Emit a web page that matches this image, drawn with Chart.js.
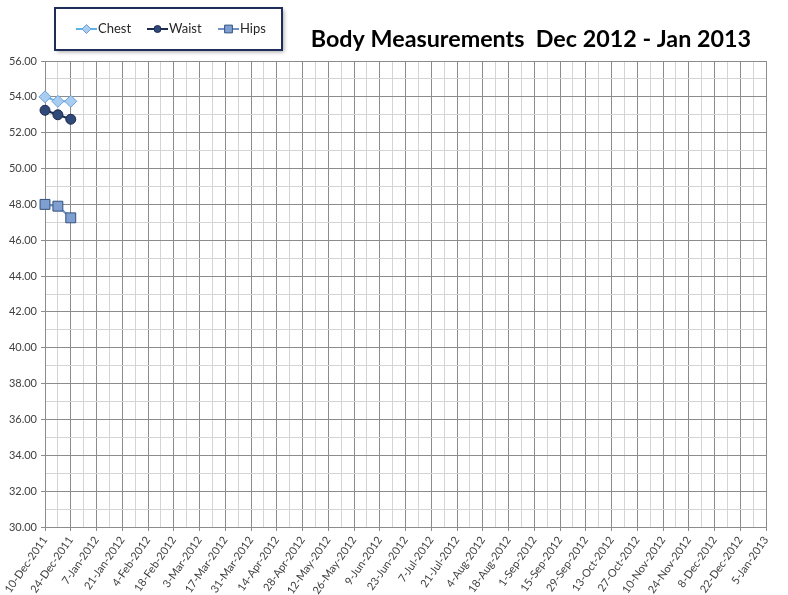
<!DOCTYPE html>
<html>
<head>
<meta charset="utf-8">
<title>Body Measurements</title>
<script src="https://cdn.jsdelivr.net/npm/chart.js@4.4.1/dist/chart.umd.min.js"></script>
<style>
  html, body { margin: 0; padding: 0; background: #ffffff; }
  #contenedor { position: relative; width: 788px; height: 595px; }
</style>
</head>
<body>
<div id="contenedor">
  <canvas id="graficoMedidas" width="788" height="595"></canvas>
</div>
<script>
// Datos (pulgadas)
const fechasMedicion = ['2011-12-10', '2011-12-17', '2011-12-24'];
const pecho = [54.0, 53.75, 53.75];
const cintura = [53.25, 53.0, 52.75];
const caderas = [48.0, 47.9, 47.25];

// Eje X: fechas cada 14 dias desde 10-Dec-2011
const fechaInicio = '2011-12-10';
const etiquetasX = [
    '10-Dec-2011', '24-Dec-2011', '7-Jan-2012', '21-Jan-2012', '4-Feb-2012',
    '18-Feb-2012', '3-Mar-2012', '17-Mar-2012', '31-Mar-2012', '14-Apr-2012',
    '28-Apr-2012', '12-May-2012', '26-May-2012', '9-Jun-2012', '23-Jun-2012',
    '7-Jul-2012', '21-Jul-2012', '4-Aug-2012', '18-Aug-2012', '1-Sep-2012',
    '15-Sep-2012', '29-Sep-2012', '13-Oct-2012', '27-Oct-2012', '10-Nov-2012',
    '24-Nov-2012', '8-Dec-2012', '22-Dec-2012', '5-Jan-2013'
];
const pasoEtiquetas = 14;
const pasoMenorX = 7;

// Eje Y
const yMin = 30;
const yMax = 56;

const tituloGrafico = 'Body Measurements  Dec 2012 - Jan 2013';

// Dias transcurridos desde la fecha de inicio
function diasDesdeInicio(fecha) {
    return Math.round((Date.parse(fecha) - Date.parse(fechaInicio)) / 86400000);
}

function construirPuntos(valores) {
    return valores.map((v, i) => ({ x: diasDesdeInicio(fechasMedicion[i]), y: v }));
}

const diasTotales = (etiquetasX.length - 1) * pasoEtiquetas;

const fuenteBase = 'Lato, "Open Sans", "DejaVu Sans", sans-serif';

// Plugin para dibujar la leyenda con caja y el titulo
const pluginLeyendaTitulo = {
    id: 'leyendaTitulo',
    afterDraw(chart) {
        const ctx = chart.ctx;
        ctx.save();

        // Caja de la leyenda con sombra
        const caja = { x: 55, y: 8, w: 227, h: 42 };
        ctx.shadowColor = 'rgba(0,0,0,0.35)';
        ctx.shadowBlur = 4;
        ctx.shadowOffsetX = 2;
        ctx.shadowOffsetY = 2;
        ctx.fillStyle = '#ffffff';
        ctx.fillRect(caja.x, caja.y, caja.w, caja.h);
        ctx.shadowColor = 'transparent';
        ctx.lineWidth = 2;
        ctx.strokeStyle = '#1f2d5a';
        ctx.strokeRect(caja.x, caja.y, caja.w, caja.h);

        // Elementos de la leyenda
        const inicios = [76, 147, 218];
        const yCentro = 29;
        chart.data.datasets.forEach((ds, i) => {
            const x0 = inicios[i];
            ctx.beginPath();
            ctx.strokeStyle = ds.borderColor;
            ctx.lineWidth = 2;
            ctx.moveTo(x0, yCentro);
            ctx.lineTo(x0 + 21, yCentro);
            ctx.stroke();
            ctx.fillStyle = ds.pointBackgroundColor;
            ctx.strokeStyle = ds.pointBorderColor;
            ctx.lineWidth = 1;
            Chart.helpers.drawPoint(ctx, {
                pointStyle: ds.pointStyle,
                radius: ds.pointRadius - 1.5,
                borderWidth: 1
            }, x0 + 10.5, yCentro);
            ctx.fillStyle = '#262626';
            ctx.font = '13px ' + fuenteBase;
            ctx.textAlign = 'left';
            ctx.textBaseline = 'middle';
            ctx.fillText(ds.label, x0 + 22, yCentro);
        });

        // Titulo
        ctx.fillStyle = '#000000';
        ctx.font = 'bold 23.3px ' + fuenteBase;
        ctx.textAlign = 'right';
        ctx.textBaseline = 'alphabetic';
        ctx.fillText(tituloGrafico, 751, 47);

        ctx.restore();
    }
};

const ctx = document.getElementById('graficoMedidas').getContext('2d');
window.graficoMedidas = new Chart(ctx, {
    type: 'line',
    data: {
        datasets: [
            {
                label: 'Chest',
                data: construirPuntos(pecho),
                borderColor: '#5ab4ea',
                borderWidth: 2,
                pointStyle: 'rectRot',
                pointRadius: 6,
                pointBackgroundColor: '#a9cdf0',
                pointBorderColor: '#6c9fd8',
                pointBorderWidth: 1,
                clip: false
            },
            {
                label: 'Waist',
                data: construirPuntos(cintura),
                borderColor: '#1b2a4f',
                borderWidth: 2,
                pointStyle: 'circle',
                pointRadius: 5,
                pointBackgroundColor: '#2f4a78',
                pointBorderColor: '#1b2a4f',
                pointBorderWidth: 1,
                clip: false
            },
            {
                label: 'Hips',
                data: construirPuntos(caderas),
                borderColor: '#6f93c8',
                borderWidth: 2,
                pointStyle: 'rect',
                pointRadius: 7,
                pointBackgroundColor: '#7e9fd0',
                pointBorderColor: '#34527f',
                pointBorderWidth: 1,
                clip: false
            }
        ]
    },
    options: {
        responsive: false,
        animation: false,
        layout: { padding: { top: 61, right: 22, left: 0, bottom: 0 } },
        plugins: {
            legend: { display: false },
            title: { display: false },
            tooltip: { enabled: false }
        },
        scales: {
            x: {
                type: 'linear',
                min: 0,
                max: diasTotales,
                afterFit(escala) { escala.height = 68; },
                afterBuildTicks(escala) {
                    const ticks = [];
                    for (let d = 0; d <= diasTotales; d += pasoMenorX) ticks.push({ value: d });
                    escala.ticks = ticks;
                },
                ticks: {
                    autoSkip: false,
                    minRotation: 55,
                    maxRotation: 55,
                    padding: 3,
                    color: '#404040',
                    font: { size: 11, family: fuenteBase },
                    callback(valor) {
                        if (valor % pasoEtiquetas !== 0) return '';
                        return etiquetasX[valor / pasoEtiquetas];
                    }
                },
                grid: {
                    color: c => (c.tick && c.tick.value % pasoEtiquetas === 0) ? '#8c8c8c' : '#d4d4d4',
                    tickColor: c => (c.tick && c.tick.value % pasoEtiquetas === 0) ? '#8c8c8c' : 'rgba(0,0,0,0)',
                    tickLength: 4,
                    lineWidth: 1
                },
                border: { color: '#8c8c8c' }
            },
            y: {
                min: yMin,
                max: yMax,
                afterFit(escala) { escala.width = 45; },
                ticks: {
                    stepSize: 1,
                    autoSkip: false,
                    padding: 4,
                    color: '#404040',
                    font: { size: 11, family: fuenteBase },
                    callback(valor) {
                        return valor % 2 === 0 ? valor.toFixed(2) : '';
                    }
                },
                grid: {
                    color: c => (c.tick && c.tick.value % 2 === 0) ? '#8c8c8c' : '#d4d4d4',
                    tickColor: c => (c.tick && c.tick.value % 2 === 0) ? '#8c8c8c' : 'rgba(0,0,0,0)',
                    tickLength: 4,
                    lineWidth: 1
                },
                border: { color: '#8c8c8c' }
            }
        }
    },
    plugins: [pluginLeyendaTitulo]
});
</script>
</body>
</html>
